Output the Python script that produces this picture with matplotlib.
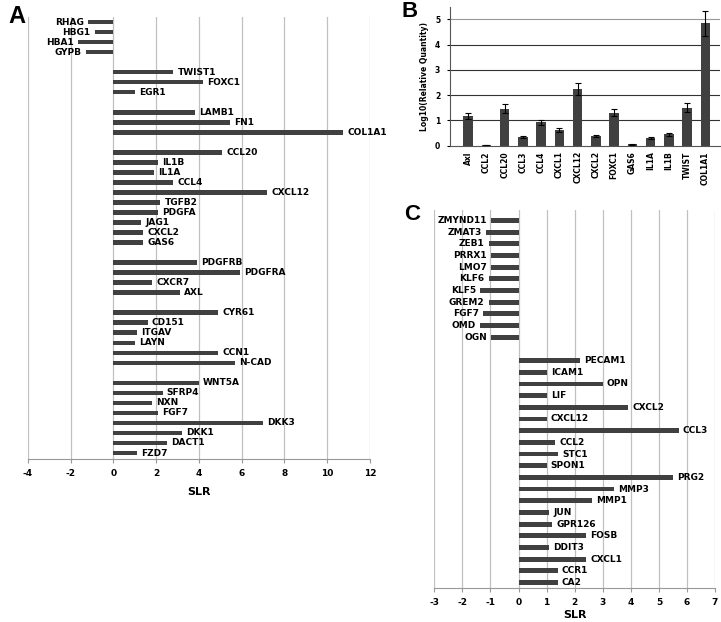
import matplotlib
matplotlib.use('Agg')
import matplotlib.pyplot as plt
import numpy as np

plt.rcParams['font.family'] = 'DejaVu Sans'
plt.rcParams['font.weight'] = 'bold'

BAR = '#404040'
GRID = '#c0c0c0'

# panel A: gene -> SLR, None marks an empty row
a_genes = ['RHAG', 'HBG1', 'HBA1', 'GYPB', None,
           'TWIST1', 'FOXC1', 'EGR1', None,
           'LAMB1', 'FN1', 'COL1A1', None,
           'CCL20', 'IL1B', 'IL1A', 'CCL4', 'CXCL12', 'TGFB2', 'PDGFA', 'JAG1', 'CXCL2', 'GAS6', None,
           'PDGFRB', 'PDGFRA', 'CXCR7', 'AXL', None,
           'CYR61', 'CD151', 'ITGAV', 'LAYN', 'CCN1', 'N-CAD', None,
           'WNT5A', 'SFRP4', 'NXN', 'FGF7', 'DKK3', 'DKK1', 'DACT1', 'FZD7']
a_vals = [-1.17, -0.87, -1.68, -1.28, None,
          2.8, 4.2, 1.0, None,
          3.8, 5.43, 10.75, None,
          5.1, 2.1, 1.9, 2.8, 7.2, 2.2, 2.1, 1.3, 1.4, 1.4, None,
          3.9, 5.9, 1.8, 3.1, None,
          4.9, 1.6, 1.1, 1.0, 4.9, 5.7, None,
          4.0, 2.3, 1.8, 2.1, 7.0, 3.2, 2.5, 1.1]

# panel B
b_genes = ['Axl', 'CCL2', 'CCL20', 'CCL3', 'CCL4', 'CXCL1', 'CXCL12', 'CXCL2',
           'FOXC1', 'GAS6', 'IL1A', 'IL1B', 'TWIST', 'COL1A1']
b_vals = [1.16, 0.03, 1.46, 0.34, 0.93, 0.63, 2.25, 0.38, 1.30, 0.05, 0.30, 0.45, 1.50, 4.84]
b_err = [0.12, 0.01, 0.17, 0.04, 0.10, 0.08, 0.24, 0.04, 0.14, 0.01, 0.03, 0.05, 0.17, 0.50]

# panel C
c_genes = ['ZMYND11', 'ZMAT3', 'ZEB1', 'PRRX1', 'LMO7', 'KLF6', 'KLF5', 'GREM2', 'FGF7', 'OMD', 'OGN', None,
           'PECAM1', 'ICAM1', 'OPN', 'LIF', 'CXCL2', 'CXCL12', 'CCL3', 'CCL2', 'STC1', 'SPON1',
           'PRG2', 'MMP3', 'MMP1', 'JUN', 'GPR126', 'FOSB', 'DDIT3', 'CXCL1', 'CCR1', 'CA2']
c_vals = [-0.97, -1.16, -1.07, -0.97, -0.97, -1.07, -1.37, -1.07, -1.27, -1.37, -0.97, None,
          2.2, 1.0, 3.0, 1.0, 3.9, 1.0, 5.7, 1.3, 1.4, 1.0,
          5.5, 3.4, 2.6, 1.1, 1.2, 2.4, 1.1, 2.4, 1.4, 1.4]


def slr_panel(ax, genes, vals, ticks, bh, ylim, fs, lpad):
    for i, (g, v) in enumerate(zip(genes, vals)):
        if g is None:
            continue
        ax.barh(i, v, height=bh, color=BAR, zorder=2)
        if v >= 0:
            ax.annotate(g, (v, i), xytext=(3, 0), textcoords='offset points',
                        ha='left', va='center', fontsize=fs, fontweight='bold')
        else:
            ax.annotate(g, (v, i), xytext=(-3, 0), textcoords='offset points',
                        ha='right', va='center', fontsize=fs, fontweight='bold')
    ax.set_xlim(ticks[0], ticks[-1])
    ax.set_ylim(*ylim)
    ax.set_xticks(ticks)
    ax.set_xticklabels([str(t) for t in ticks], fontsize=fs, fontweight='bold')
    ax.set_yticks([])
    for t in ticks:
        ax.axvline(t, color=GRID, lw=0.9, zorder=0)
    for s in ['top', 'left', 'right']:
        ax.spines[s].set_visible(False)
    ax.spines['bottom'].set_color('#999999')
    ax.tick_params(axis='x', colors='#999999', length=3, labelcolor='black', pad=4)
    ax.set_xlabel('SLR', fontsize=fs + 1.5, fontweight='bold', labelpad=lpad)


fig = plt.figure(figsize=(7.21, 6.22), dpi=100)

axA = fig.add_axes([0.0388, 0.262, 0.4743, 0.7106])
slr_panel(axA, a_genes, a_vals, list(range(-4, 13, 2)), 0.45, (43.6, -0.5), 6.5, 7)

axC = fig.add_axes([0.6024, 0.0542, 0.3893, 0.6082])
slr_panel(axC, c_genes, c_vals, list(range(-3, 8)), 0.42, (31.5, -0.9), 6.5, 2)

axB = fig.add_axes([0.6241, 0.7658, 0.3745, 0.2235])
x = np.arange(len(b_genes))
axB.bar(x, b_vals, width=0.52, color=BAR, zorder=2)
axB.errorbar(x, b_vals, yerr=b_err, fmt='none', ecolor='black', elinewidth=0.8,
             capsize=2, capthick=0.8, zorder=3)
axB.set_xlim(-1.0, 13.8)
axB.set_ylim(0, 5.5)
axB.set_yticks(range(0, 6))
axB.set_yticklabels([str(i) for i in range(0, 6)], fontsize=5.5, fontweight='bold')
for yv in range(1, 5):
    axB.axhline(yv, color='#333333', lw=0.8, zorder=0)
axB.axhline(5, color='#999999', lw=0.8, zorder=0)
axB.set_xticks(x)
axB.set_xticklabels(b_genes, rotation=90, fontsize=5.5, fontweight='bold')
axB.tick_params(axis='x', length=0, pad=4)
axB.tick_params(axis='y', length=2, pad=5)
axB.set_ylabel('Log10(Relative Quantity)', fontsize=5.5, fontweight='bold', labelpad=4)
for s in ['top', 'right']:
    axB.spines[s].set_visible(False)
axB.spines['left'].set_color('#555555')
axB.spines['bottom'].set_color('#555555')

fig.text(0.011, 0.992, 'A', fontsize=17, fontweight='bold', va='top', family='Liberation Sans')
fig.text(0.557, 0.998, 'B', fontsize=16, fontweight='bold', va='top', family='Liberation Sans')
fig.text(0.561, 0.672, 'C', fontsize=16, fontweight='bold', va='top', family='Liberation Sans')

fig.savefig('out.png', dpi=100)
